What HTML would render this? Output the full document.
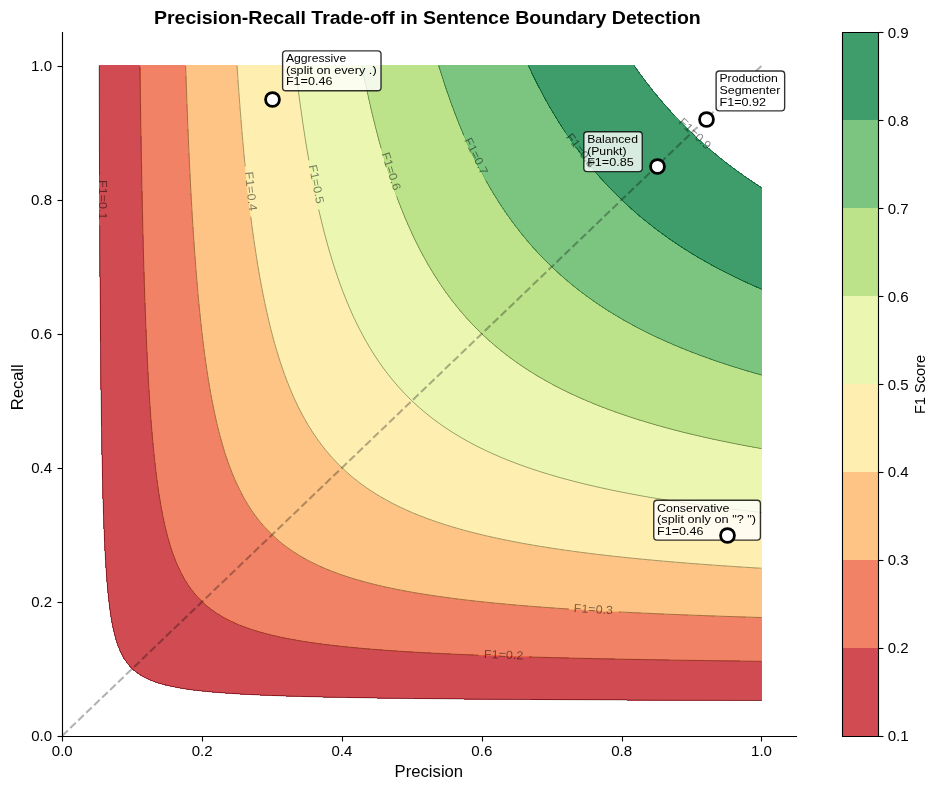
<!DOCTYPE html>
<html><head><meta charset="utf-8"><title>Precision-Recall Trade-off in Sentence Boundary Detection</title>
<style>html,body{margin:0;padding:0;background:#fff;overflow:hidden}svg{display:block;will-change:transform}text{font-family:"Liberation Sans",sans-serif}</style>
</head><body>
<svg width="938" height="790" viewBox="0 0 938 790">
<!-- figure background -->
<path d="M-5 795L995 795L995 -5L-5 -5Z" fill="#ffffff" shape-rendering="crispEdges"/>
<!-- axes patch / spines / colorbar outline -->
<path d="M62 736L796 736L796 32L62 32Z" fill="#ffffff"/>
<!-- filled contours & contour lines -->
<path d="M285.11 695.99L291.82 696.2L298.53 696.4L305.24 696.58L311.95 696.75L318.66 696.92L325.37 697.07L332.08 697.22L338.79 697.35L345.5 697.48L352.21 697.61L358.92 697.73L365.62 697.84L372.33 697.94L379.04 698.04L385.75 698.14L392.46 698.23L399.17 698.32L405.88 698.41L412.59 698.49L419.3 698.56L426.01 698.64L432.72 698.71L439.43 698.78L446.14 698.85L452.85 698.91L459.56 698.97L466.27 699.03L472.98 699.09L479.69 699.14L486.4 699.2L493.11 699.25L499.82 699.3L506.53 699.34L513.24 699.39L519.95 699.44L526.66 699.48L533.37 699.52L540.08 699.56L546.79 699.6L553.5 699.64L560.2 699.68L566.91 699.72L573.62 699.75L580.33 699.79L587.04 699.82L593.75 699.85L600.46 699.88L607.17 699.91L613.88 699.94L620.59 699.97L627.3 700L634.01 700.03L640.72 700.06L647.43 700.08L654.14 700.11L660.85 700.13L667.56 700.16L674.27 700.18L680.98 700.21L687.69 700.23L694.4 700.25L701.11 700.27L707.82 700.3L714.53 700.32L721.24 700.34L727.95 700.36L734.66 700.38L741.37 700.4L748.08 700.42L754.79 700.43L761.49 700.45L761.49 695.8L761.49 689.37L761.49 682.94L761.49 676.51L761.49 670.09L761.49 663.66L761.49 661.28L754.79 661.2L748.08 661.11L741.37 661.03L734.66 660.94L727.95 660.86L721.24 660.77L714.53 660.67L707.82 660.58L701.11 660.48L694.4 660.39L687.69 660.29L680.98 660.18L674.27 660.08L667.56 659.97L660.85 659.86L654.14 659.74L647.43 659.63L640.72 659.51L634.01 659.38L627.3 659.26L620.59 659.13L613.88 658.99L607.17 658.86L600.46 658.72L593.75 658.57L587.04 658.42L580.33 658.27L573.62 658.11L566.91 657.95L560.2 657.78L553.5 657.61L546.79 657.43L540.08 657.25L539.4 657.23L533.37 657.05L526.66 656.85L519.95 656.65L513.24 656.43L506.53 656.21L499.82 655.98L493.11 655.74L486.4 655.49L479.69 655.23L472.98 654.97L466.27 654.69L459.56 654.4L452.85 654.1L446.14 653.79L439.43 653.46L432.72 653.12L426.01 652.77L419.3 652.4L412.59 652.01L405.88 651.61L399.17 651.18L393.43 650.8L392.46 650.73L385.75 650.25L379.04 649.74L372.33 649.21L365.62 648.64L358.92 648.05L352.21 647.41L345.5 646.75L338.79 646.04L332.08 645.28L325.37 644.48L324.5 644.37L318.66 643.6L311.95 642.65L305.24 641.63L298.53 640.54L291.82 639.37L285.11 638.1L284.35 637.94L278.4 636.67L271.69 635.12L264.98 633.43L258.27 631.58L258.06 631.52L251.56 629.46L244.85 627.12L239.55 625.09L238.14 624.51L231.43 621.49L225.76 618.66L224.72 618.1L218.01 614.12L215.14 612.23L211.3 609.48L206.67 605.8L204.59 604L199.77 599.38L197.88 597.39L194.04 592.95L191.17 589.27L189.21 586.52L185.05 580.09L184.46 579.09L181.51 573.66L178.36 567.23L177.75 565.89L175.63 560.81L173.19 554.38L171.04 548.15L170.98 547.95L169.05 541.52L167.28 535.09L165.66 528.66L164.34 522.96L164.18 522.24L162.85 515.81L161.63 509.38L160.49 502.95L159.42 496.52L158.43 490.09L157.63 484.5L157.51 483.67L156.67 477.24L155.89 470.81L155.15 464.38L154.45 457.95L153.79 451.52L153.17 445.1L152.58 438.67L152.02 432.24L151.49 425.81L150.99 419.38L150.92 418.46L150.52 412.96L150.07 406.53L149.65 400.1L149.25 393.67L148.86 387.24L148.49 380.81L148.14 374.39L147.8 367.96L147.47 361.53L147.16 355.1L146.86 348.67L146.57 342.24L146.29 335.82L146.02 329.39L145.76 322.96L145.51 316.53L145.27 310.1L145.04 303.67L144.82 297.25L144.6 290.82L144.39 284.39L144.21 278.61L144.19 277.96L143.99 271.53L143.81 265.1L143.63 258.68L143.45 252.25L143.28 245.82L143.12 239.39L142.96 232.96L142.8 226.53L142.65 220.11L142.51 213.68L142.36 207.25L142.22 200.82L142.09 194.39L141.96 187.97L141.83 181.54L141.7 175.11L141.58 168.68L141.46 162.25L141.35 155.82L141.23 149.4L141.12 142.97L141.02 136.54L140.91 130.11L140.81 123.68L140.71 117.25L140.61 110.83L140.51 104.4L140.42 97.97L140.33 91.54L140.24 85.11L140.15 78.68L140.07 72.26L139.98 65.83L137.5 65.83L130.79 65.83L124.08 65.83L117.37 65.83L110.66 65.83L103.95 65.83L99.09 65.83L99.11 72.26L99.13 78.68L99.15 85.11L99.17 91.54L99.19 97.97L99.21 104.4L99.23 110.83L99.25 117.25L99.28 123.68L99.3 130.11L99.32 136.54L99.35 142.97L99.37 149.4L99.4 155.82L99.42 162.25L99.45 168.68L99.48 175.11L99.5 181.54L99.53 187.97L99.56 194.39L99.59 200.82L99.62 207.25L99.65 213.68L99.69 220.11L99.72 226.53L99.75 232.96L99.79 239.39L99.82 245.82L99.86 252.25L99.9 258.68L99.94 265.1L99.98 271.53L100.02 277.96L100.06 284.39L100.11 290.82L100.15 297.25L100.2 303.67L100.25 310.1L100.3 316.53L100.35 322.96L100.4 329.39L100.46 335.82L100.52 342.24L100.58 348.67L100.64 355.1L100.7 361.53L100.77 367.96L100.84 374.39L100.91 380.81L100.98 387.24L101.06 393.67L101.14 400.1L101.23 406.53L101.32 412.96L101.41 419.38L101.5 425.81L101.6 432.24L101.71 438.67L101.82 445.1L101.94 451.52L102.06 457.95L102.19 464.38L102.33 470.81L102.47 477.24L102.62 483.67L102.78 490.09L102.95 496.52L103.13 502.95L103.32 509.38L103.53 515.81L103.75 522.24L103.95 527.68L103.99 528.66L104.25 535.09L104.54 541.52L104.85 547.95L105.19 554.38L105.55 560.81L105.96 567.23L106.4 573.66L106.88 580.09L107.41 586.52L108.01 592.95L108.67 599.38L109.42 605.8L110.26 612.23L110.66 614.9L111.27 618.66L112.47 625.09L113.87 631.52L115.51 637.94L117.37 644.04L117.48 644.37L120.08 650.8L123.3 657.23L124.08 658.55L127.68 663.66L130.79 667.25L133.75 670.09L137.5 673.06L142.83 676.51L144.21 677.26L150.92 680.34L157.63 682.83L157.97 682.94L164.34 684.72L171.04 686.29L177.75 687.63L184.46 688.78L188.38 689.37L191.17 689.75L197.88 690.56L204.59 691.27L211.3 691.91L218.01 692.48L224.72 692.99L231.43 693.45L238.14 693.88L244.85 694.26L251.56 694.61L258.27 694.94L264.98 695.23L271.69 695.51L278.4 695.76L279.43 695.8Z" fill="#c41e27" fill-opacity="0.8" stroke="#c41e27" stroke-width="1" stroke-opacity="0.8" shape-rendering="crispEdges"/>
<path d="M540.08 657.25L546.79 657.43L553.5 657.61L560.2 657.78L566.91 657.95L573.62 658.11L580.33 658.27L587.04 658.42L593.75 658.57L600.46 658.72L607.17 658.86L613.88 658.99L620.59 659.13L627.3 659.26L634.01 659.38L640.72 659.51L647.43 659.63L654.14 659.74L660.85 659.86L667.56 659.97L674.27 660.08L680.98 660.18L687.69 660.29L694.4 660.39L701.11 660.48L707.82 660.58L714.53 660.67L721.24 660.77L727.95 660.86L734.66 660.94L741.37 661.03L748.08 661.11L754.79 661.2L761.49 661.28L761.49 657.23L761.49 650.8L761.49 644.37L761.49 637.94L761.49 631.52L761.49 625.09L761.49 618.66L761.49 617.5L754.79 617.29L748.08 617.09L741.37 616.87L734.66 616.66L727.95 616.43L721.24 616.2L714.53 615.97L707.82 615.73L701.11 615.49L694.4 615.23L687.69 614.98L680.98 614.71L674.27 614.44L667.56 614.16L660.85 613.88L654.14 613.59L647.43 613.29L640.72 612.98L634.01 612.66L627.3 612.33L625.26 612.23L620.59 611.99L613.88 611.64L607.17 611.28L600.46 610.91L593.75 610.52L587.04 610.12L580.33 609.71L573.62 609.29L566.91 608.86L560.2 608.41L553.5 607.94L546.79 607.46L540.08 606.97L533.37 606.45L526.66 605.92L525.22 605.8L519.95 605.36L513.24 604.78L506.53 604.17L499.82 603.54L493.11 602.89L486.4 602.21L479.69 601.5L472.98 600.76L466.27 600L461.04 599.38L459.56 599.19L452.85 598.34L446.14 597.44L439.43 596.51L432.72 595.53L426.01 594.51L419.3 593.43L416.38 592.95L412.59 592.29L405.88 591.07L399.17 589.79L392.46 588.44L385.75 587.02L383.5 586.52L379.04 585.49L372.33 583.85L365.62 582.12L358.92 580.27L358.27 580.09L352.21 578.27L345.5 576.12L338.79 573.83L338.32 573.66L332.08 571.31L325.37 568.61L322.16 567.23L318.66 565.65L311.95 562.43L308.78 560.81L305.24 558.89L298.53 555L297.51 554.38L291.82 550.67L287.92 547.95L285.11 545.86L279.63 541.52L278.4 540.48L272.41 535.09L271.69 534.4L266.06 528.66L264.98 527.48L260.45 522.24L258.27 519.54L255.43 515.81L251.56 510.36L250.91 509.38L246.85 502.95L244.85 499.56L243.16 496.52L239.79 490.09L238.14 486.74L236.71 483.67L233.89 477.24L231.43 471.25L231.26 470.81L228.87 464.38L226.63 457.95L224.72 452.14L224.53 451.52L222.61 445.1L220.8 438.67L219.09 432.24L218.01 427.97L217.49 425.81L216 419.38L214.6 412.96L213.26 406.53L211.99 400.1L211.3 396.47L210.79 393.67L209.67 387.24L208.6 380.81L207.58 374.39L206.61 367.96L205.68 361.53L204.78 355.1L204.59 353.68L203.94 348.67L203.14 342.24L202.38 335.82L201.64 329.39L200.93 322.96L200.25 316.53L199.59 310.1L198.96 303.67L198.35 297.25L197.88 292.19L197.76 290.82L197.21 284.39L196.67 277.96L196.15 271.53L195.65 265.1L195.17 258.68L194.7 252.25L194.24 245.82L193.8 239.39L193.37 232.96L192.96 226.53L192.56 220.11L192.17 213.68L191.79 207.25L191.42 200.82L191.17 196.35L191.07 194.39L190.73 187.97L190.4 181.54L190.07 175.11L189.76 168.68L189.45 162.25L189.16 155.82L188.87 149.4L188.58 142.97L188.31 136.54L188.04 130.11L187.78 123.68L187.52 117.25L187.27 110.83L187.03 104.4L186.79 97.97L186.56 91.54L186.33 85.11L186.11 78.68L185.89 72.26L185.68 65.83L184.46 65.83L177.75 65.83L171.04 65.83L164.34 65.83L157.63 65.83L150.92 65.83L144.21 65.83L139.98 65.83L140.07 72.26L140.15 78.68L140.24 85.11L140.33 91.54L140.42 97.97L140.51 104.4L140.61 110.83L140.71 117.25L140.81 123.68L140.91 130.11L141.02 136.54L141.12 142.97L141.23 149.4L141.35 155.82L141.46 162.25L141.58 168.68L141.7 175.11L141.83 181.54L141.96 187.97L142.09 194.39L142.22 200.82L142.36 207.25L142.51 213.68L142.65 220.11L142.8 226.53L142.96 232.96L143.12 239.39L143.28 245.82L143.45 252.25L143.63 258.68L143.81 265.1L143.99 271.53L144.19 277.96L144.21 278.61L144.39 284.39L144.6 290.82L144.82 297.25L145.04 303.67L145.27 310.1L145.51 316.53L145.76 322.96L146.02 329.39L146.29 335.82L146.57 342.24L146.86 348.67L147.16 355.1L147.47 361.53L147.8 367.96L148.14 374.39L148.49 380.81L148.86 387.24L149.25 393.67L149.65 400.1L150.07 406.53L150.52 412.96L150.92 418.46L150.99 419.38L151.49 425.81L152.02 432.24L152.58 438.67L153.17 445.1L153.79 451.52L154.45 457.95L155.15 464.38L155.89 470.81L156.67 477.24L157.51 483.67L157.63 484.5L158.43 490.09L159.42 496.52L160.49 502.95L161.63 509.38L162.85 515.81L164.18 522.24L164.34 522.96L165.66 528.66L167.28 535.09L169.05 541.52L170.98 547.95L171.04 548.15L173.19 554.38L175.63 560.81L177.75 565.89L178.36 567.23L181.51 573.66L184.46 579.09L185.05 580.09L189.21 586.52L191.17 589.27L194.04 592.95L197.88 597.39L199.77 599.38L204.59 604L206.67 605.8L211.3 609.48L215.14 612.23L218.01 614.12L224.72 618.1L225.76 618.66L231.43 621.49L238.14 624.51L239.55 625.09L244.85 627.12L251.56 629.46L258.06 631.52L258.27 631.58L264.98 633.43L271.69 635.12L278.4 636.67L284.35 637.94L285.11 638.1L291.82 639.37L298.53 640.54L305.24 641.63L311.95 642.65L318.66 643.6L324.5 644.37L325.37 644.48L332.08 645.28L338.79 646.04L345.5 646.75L352.21 647.41L358.92 648.05L365.62 648.64L372.33 649.21L379.04 649.74L385.75 650.25L392.46 650.73L393.43 650.8L399.17 651.18L405.88 651.61L412.59 652.01L419.3 652.4L426.01 652.77L432.72 653.12L439.43 653.46L446.14 653.79L452.85 654.1L459.56 654.4L466.27 654.69L472.98 654.97L479.69 655.23L486.4 655.49L493.11 655.74L499.82 655.98L506.53 656.21L513.24 656.43L519.95 656.65L526.66 656.85L533.37 657.05L539.4 657.23Z" fill="#ef633f" fill-opacity="0.8" stroke="#ef633f" stroke-width="1" stroke-opacity="0.8" shape-rendering="crispEdges"/>
<path d="M627.3 612.33L634.01 612.66L640.72 612.98L647.43 613.29L654.14 613.59L660.85 613.88L667.56 614.16L674.27 614.44L680.98 614.71L687.69 614.98L694.4 615.23L701.11 615.49L707.82 615.73L714.53 615.97L721.24 616.2L727.95 616.43L734.66 616.66L741.37 616.87L748.08 617.09L754.79 617.29L761.49 617.5L761.49 612.23L761.49 605.8L761.49 599.38L761.49 592.95L761.49 586.52L761.49 580.09L761.49 573.66L761.49 568.24L754.79 567.84L748.08 567.42L745.06 567.23L741.37 567L734.66 566.56L727.95 566.1L721.24 565.64L714.53 565.17L707.82 564.68L701.11 564.18L694.4 563.67L687.69 563.15L680.98 562.61L674.27 562.05L667.56 561.48L660.85 560.9L659.8 560.81L654.14 560.29L647.43 559.66L640.72 559.01L634.01 558.35L627.3 557.66L620.59 556.96L613.88 556.23L607.17 555.48L600.46 554.71L597.69 554.38L593.75 553.9L587.04 553.06L580.33 552.19L573.62 551.3L566.91 550.37L560.2 549.41L553.5 548.42L550.43 547.95L546.79 547.38L540.08 546.29L533.37 545.17L526.66 544L519.95 542.78L513.24 541.52L513.23 541.52L506.53 540.18L499.82 538.79L493.11 537.34L486.4 535.83L483.25 535.09L479.69 534.23L472.98 532.55L466.27 530.8L459.56 528.96L458.51 528.66L452.85 527L446.14 524.95L439.43 522.79L437.79 522.24L432.72 520.48L426.01 518.04L420.15 515.81L419.3 515.47L412.59 512.71L405.88 509.79L404.98 509.38L399.17 506.64L392.46 503.31L391.78 502.95L385.75 499.69L380.2 496.52L379.04 495.84L372.33 491.66L369.95 490.09L365.62 487.13L360.81 483.67L358.92 482.24L352.61 477.24L352.21 476.9L345.5 471.06L345.22 470.81L338.79 464.65L338.52 464.38L332.43 457.95L332.08 457.57L326.86 451.52L325.37 449.71L321.75 445.1L318.66 440.95L317.03 438.67L312.66 432.24L311.95 431.14L308.64 425.81L305.24 420.04L304.87 419.38L301.38 412.96L298.53 407.39L298.1 406.53L295.06 400.1L292.17 393.67L291.82 392.85L289.49 387.24L286.94 380.81L285.11 375.96L284.53 374.39L282.28 367.96L280.13 361.53L278.4 356.11L278.09 355.1L276.17 348.67L274.34 342.24L272.58 335.82L271.69 332.41L270.92 329.39L269.34 322.96L267.83 316.53L266.38 310.1L264.98 303.68L264.98 303.67L263.66 297.25L262.4 290.82L261.18 284.39L260 277.96L258.87 271.53L258.27 268.04L257.78 265.1L256.75 258.68L255.75 252.25L254.78 245.82L253.84 239.39L252.94 232.96L252.06 226.53L251.56 222.76L251.22 220.11L250.41 213.68L249.63 207.25L248.87 200.82L248.13 194.39L247.42 187.97L246.72 181.54L246.05 175.11L245.39 168.68L244.85 163.26L244.75 162.25L244.14 155.82L243.55 149.4L242.97 142.97L242.41 136.54L241.86 130.11L241.33 123.68L240.81 117.25L240.3 110.83L239.8 104.4L239.32 97.97L238.85 91.54L238.39 85.11L238.14 81.58L237.94 78.68L237.51 72.26L237.09 65.83L231.43 65.83L224.72 65.83L218.01 65.83L211.3 65.83L204.59 65.83L197.88 65.83L191.17 65.83L185.68 65.83L185.89 72.26L186.11 78.68L186.33 85.11L186.56 91.54L186.79 97.97L187.03 104.4L187.27 110.83L187.52 117.25L187.78 123.68L188.04 130.11L188.31 136.54L188.58 142.97L188.87 149.4L189.16 155.82L189.45 162.25L189.76 168.68L190.07 175.11L190.4 181.54L190.73 187.97L191.07 194.39L191.17 196.35L191.42 200.82L191.79 207.25L192.17 213.68L192.56 220.11L192.96 226.53L193.37 232.96L193.8 239.39L194.24 245.82L194.7 252.25L195.17 258.68L195.65 265.1L196.15 271.53L196.67 277.96L197.21 284.39L197.76 290.82L197.88 292.19L198.35 297.25L198.96 303.67L199.59 310.1L200.25 316.53L200.93 322.96L201.64 329.39L202.38 335.82L203.14 342.24L203.94 348.67L204.59 353.68L204.78 355.1L205.68 361.53L206.61 367.96L207.58 374.39L208.6 380.81L209.67 387.24L210.79 393.67L211.3 396.47L211.99 400.1L213.26 406.53L214.6 412.96L216 419.38L217.49 425.81L218.01 427.97L219.09 432.24L220.8 438.67L222.61 445.1L224.53 451.52L224.72 452.14L226.63 457.95L228.87 464.38L231.26 470.81L231.43 471.25L233.89 477.24L236.71 483.67L238.14 486.74L239.79 490.09L243.16 496.52L244.85 499.56L246.85 502.95L250.91 509.38L251.56 510.36L255.43 515.81L258.27 519.54L260.45 522.24L264.98 527.48L266.06 528.66L271.69 534.4L272.41 535.09L278.4 540.48L279.63 541.52L285.11 545.86L287.92 547.95L291.82 550.67L297.51 554.38L298.53 555L305.24 558.89L308.78 560.81L311.95 562.43L318.66 565.65L322.16 567.23L325.37 568.61L332.08 571.31L338.32 573.66L338.79 573.83L345.5 576.12L352.21 578.27L358.27 580.09L358.92 580.27L365.62 582.12L372.33 583.85L379.04 585.49L383.5 586.52L385.75 587.02L392.46 588.44L399.17 589.79L405.88 591.07L412.59 592.29L416.38 592.95L419.3 593.43L426.01 594.51L432.72 595.53L439.43 596.51L446.14 597.44L452.85 598.34L459.56 599.19L461.04 599.38L466.27 600L472.98 600.76L479.69 601.5L486.4 602.21L493.11 602.89L499.82 603.54L506.53 604.17L513.24 604.78L519.95 605.36L525.22 605.8L526.66 605.92L533.37 606.45L540.08 606.97L546.79 607.46L553.5 607.94L560.2 608.41L566.91 608.86L573.62 609.29L580.33 609.71L587.04 610.12L593.75 610.52L600.46 610.91L607.17 611.28L613.88 611.64L620.59 611.99L625.26 612.23Z" fill="#fdb567" fill-opacity="0.8" stroke="#fdb567" stroke-width="1" stroke-opacity="0.8" shape-rendering="crispEdges"/>
<path d="M748.08 567.42L754.79 567.84L761.49 568.24L761.49 567.23L761.49 560.81L761.49 554.38L761.49 547.95L761.49 541.52L761.49 535.09L761.49 528.66L761.49 522.24L761.49 515.81L761.49 512.41L754.79 511.69L748.08 510.95L741.37 510.19L734.66 509.41L734.37 509.38L727.95 508.6L721.24 507.77L714.53 506.92L707.82 506.05L701.11 505.15L694.4 504.23L687.69 503.28L685.43 502.95L680.98 502.29L674.27 501.28L667.56 500.23L660.85 499.15L654.14 498.05L647.43 496.9L645.25 496.52L640.72 495.72L634.01 494.48L627.3 493.21L620.59 491.9L613.88 490.55L611.67 490.09L607.17 489.14L600.46 487.67L593.75 486.16L587.04 484.59L583.21 483.67L580.33 482.96L573.62 481.25L566.91 479.48L560.2 477.64L558.76 477.24L553.5 475.72L546.79 473.71L540.08 471.62L537.54 470.81L533.37 469.43L526.66 467.14L519.95 464.75L518.94 464.38L513.24 462.23L506.53 459.59L502.52 457.95L499.82 456.82L493.11 453.89L487.9 451.52L486.4 450.82L479.69 447.57L474.81 445.1L472.98 444.14L466.27 440.5L463.02 438.67L459.56 436.65L452.85 432.57L452.33 432.24L446.14 428.2L442.63 425.81L439.43 423.56L433.75 419.38L432.72 418.6L426.01 413.29L425.6 412.96L419.3 407.58L418.11 406.53L412.59 401.44L411.19 400.1L405.88 394.81L404.78 393.67L399.17 387.64L398.82 387.24L393.28 380.81L392.46 379.83L388.11 374.39L385.75 371.32L383.26 367.96L379.04 362.03L378.7 361.53L374.44 355.1L372.33 351.79L370.42 348.67L366.62 342.24L365.62 340.49L363.05 335.82L359.65 329.39L358.92 327.95L356.45 322.96L353.39 316.53L352.21 313.94L350.5 310.1L347.75 303.67L345.5 298.21L345.11 297.25L342.62 290.82L340.22 284.39L338.79 280.39L337.94 277.96L335.76 271.53L333.66 265.1L332.08 260.06L331.65 258.68L329.74 252.25L327.89 245.82L326.11 239.39L325.37 236.64L324.4 232.96L322.77 226.53L321.18 220.11L319.65 213.68L318.66 209.36L318.18 207.25L316.77 200.82L315.4 194.39L314.08 187.97L312.79 181.54L311.95 177.2L311.55 175.11L310.36 168.68L309.2 162.25L308.08 155.82L306.99 149.4L305.92 142.97L305.24 138.71L304.9 136.54L303.91 130.11L302.94 123.68L302.01 117.25L301.09 110.83L300.2 104.4L299.34 97.97L298.53 91.81L298.49 91.54L297.68 85.11L296.89 78.68L296.12 72.26L295.36 65.83L291.82 65.83L285.11 65.83L278.4 65.83L271.69 65.83L264.98 65.83L258.27 65.83L251.56 65.83L244.85 65.83L238.14 65.83L237.09 65.83L237.51 72.26L237.94 78.68L238.14 81.58L238.39 85.11L238.85 91.54L239.32 97.97L239.8 104.4L240.3 110.83L240.81 117.25L241.33 123.68L241.86 130.11L242.41 136.54L242.97 142.97L243.55 149.4L244.14 155.82L244.75 162.25L244.85 163.26L245.39 168.68L246.05 175.11L246.72 181.54L247.42 187.97L248.13 194.39L248.87 200.82L249.63 207.25L250.41 213.68L251.22 220.11L251.56 222.76L252.06 226.53L252.94 232.96L253.84 239.39L254.78 245.82L255.75 252.25L256.75 258.68L257.78 265.1L258.27 268.04L258.87 271.53L260 277.96L261.18 284.39L262.4 290.82L263.66 297.25L264.98 303.67L264.98 303.68L266.38 310.1L267.83 316.53L269.34 322.96L270.92 329.39L271.69 332.41L272.58 335.82L274.34 342.24L276.17 348.67L278.09 355.1L278.4 356.11L280.13 361.53L282.28 367.96L284.53 374.39L285.11 375.96L286.94 380.81L289.49 387.24L291.82 392.85L292.17 393.67L295.06 400.1L298.1 406.53L298.53 407.39L301.38 412.96L304.87 419.38L305.24 420.04L308.64 425.81L311.95 431.14L312.66 432.24L317.03 438.67L318.66 440.95L321.75 445.1L325.37 449.71L326.86 451.52L332.08 457.57L332.43 457.95L338.52 464.38L338.79 464.65L345.22 470.81L345.5 471.06L352.21 476.9L352.61 477.24L358.92 482.24L360.81 483.67L365.62 487.13L369.95 490.09L372.33 491.66L379.04 495.84L380.2 496.52L385.75 499.69L391.78 502.95L392.46 503.31L399.17 506.64L404.98 509.38L405.88 509.79L412.59 512.71L419.3 515.47L420.15 515.81L426.01 518.04L432.72 520.48L437.79 522.24L439.43 522.79L446.14 524.95L452.85 527L458.51 528.66L459.56 528.96L466.27 530.8L472.98 532.55L479.69 534.23L483.25 535.09L486.4 535.83L493.11 537.34L499.82 538.79L506.53 540.18L513.23 541.52L513.24 541.52L519.95 542.78L526.66 544L533.37 545.17L540.08 546.29L546.79 547.38L550.43 547.95L553.5 548.42L560.2 549.41L566.91 550.37L573.62 551.3L580.33 552.19L587.04 553.06L593.75 553.9L597.69 554.38L600.46 554.71L607.17 555.48L613.88 556.23L620.59 556.96L627.3 557.66L634.01 558.35L640.72 559.01L647.43 559.66L654.14 560.29L659.8 560.81L660.85 560.9L667.56 561.48L674.27 562.05L680.98 562.61L687.69 563.15L694.4 563.67L701.11 564.18L707.82 564.68L714.53 565.17L721.24 565.64L727.95 566.1L734.66 566.56L741.37 567L745.06 567.23Z" fill="#feeb9d" fill-opacity="0.8" stroke="#feeb9d" stroke-width="1" stroke-opacity="0.8" shape-rendering="crispEdges"/>
<path d="M734.66 509.41L741.37 510.19L748.08 510.95L754.79 511.69L761.49 512.41L761.49 509.38L761.49 502.95L761.49 496.52L761.49 490.09L761.49 483.67L761.49 477.24L761.49 470.81L761.49 464.38L761.49 457.95L761.49 451.52L761.49 448.61L754.79 447.42L748.08 446.19L742.24 445.1L741.37 444.93L734.66 443.62L727.95 442.28L721.24 440.9L714.53 439.48L710.79 438.67L707.82 438.01L701.11 436.49L694.4 434.93L687.69 433.32L683.28 432.24L680.98 431.66L674.27 429.94L667.56 428.16L660.85 426.33L659.01 425.81L654.14 424.42L647.43 422.44L640.72 420.4L637.45 419.38L634.01 418.28L627.3 416.08L620.59 413.8L618.17 412.96L613.88 411.42L607.17 408.95L600.81 406.53L600.46 406.39L593.75 403.7L587.04 400.92L585.12 400.1L580.33 398L573.62 394.96L570.86 393.67L566.91 391.78L560.2 388.45L557.84 387.24L553.5 384.96L546.79 381.31L545.9 380.81L540.08 377.46L534.92 374.39L533.37 373.43L526.66 369.18L524.79 367.96L519.95 364.69L515.41 361.53L513.24 359.96L506.7 355.1L506.53 354.97L499.82 349.67L498.6 348.67L493.11 344.05L491.04 342.24L486.4 338.08L483.96 335.82L479.69 331.72L477.33 329.39L472.98 324.94L471.1 322.96L466.27 317.7L465.23 316.53L459.7 310.1L459.56 309.94L454.48 303.67L452.85 301.59L449.55 297.25L446.14 292.6L444.87 290.82L440.43 284.39L439.43 282.9L436.22 277.96L432.72 272.39L432.2 271.53L428.39 265.1L426.01 260.95L424.75 258.68L421.28 252.25L419.3 248.47L417.95 245.82L414.78 239.39L412.59 234.81L411.74 232.96L408.83 226.53L406.02 220.11L405.88 219.78L403.35 213.68L400.77 207.25L399.17 203.15L398.29 200.82L395.91 194.39L393.61 187.97L392.46 184.67L391.4 181.54L389.27 175.11L387.21 168.68L385.75 164.01L385.22 162.25L383.3 155.82L381.45 149.4L379.65 142.97L379.04 140.77L377.91 136.54L376.24 130.11L374.61 123.68L373.02 117.25L372.33 114.41L371.49 110.83L370.01 104.4L368.57 97.97L367.17 91.54L365.8 85.11L365.62 84.28L364.48 78.68L363.2 72.26L361.95 65.83L358.92 65.83L352.21 65.83L345.5 65.83L338.79 65.83L332.08 65.83L325.37 65.83L318.66 65.83L311.95 65.83L305.24 65.83L298.53 65.83L295.36 65.83L296.12 72.26L296.89 78.68L297.68 85.11L298.49 91.54L298.53 91.81L299.34 97.97L300.2 104.4L301.09 110.83L302.01 117.25L302.94 123.68L303.91 130.11L304.9 136.54L305.24 138.71L305.92 142.97L306.99 149.4L308.08 155.82L309.2 162.25L310.36 168.68L311.55 175.11L311.95 177.2L312.79 181.54L314.08 187.97L315.4 194.39L316.77 200.82L318.18 207.25L318.66 209.36L319.65 213.68L321.18 220.11L322.77 226.53L324.4 232.96L325.37 236.64L326.11 239.39L327.89 245.82L329.74 252.25L331.65 258.68L332.08 260.06L333.66 265.1L335.76 271.53L337.94 277.96L338.79 280.39L340.22 284.39L342.62 290.82L345.11 297.25L345.5 298.21L347.75 303.67L350.5 310.1L352.21 313.94L353.39 316.53L356.45 322.96L358.92 327.95L359.65 329.39L363.05 335.82L365.62 340.49L366.62 342.24L370.42 348.67L372.33 351.79L374.44 355.1L378.7 361.53L379.04 362.03L383.26 367.96L385.75 371.32L388.11 374.39L392.46 379.83L393.28 380.81L398.82 387.24L399.17 387.64L404.78 393.67L405.88 394.81L411.19 400.1L412.59 401.44L418.11 406.53L419.3 407.58L425.6 412.96L426.01 413.29L432.72 418.6L433.75 419.38L439.43 423.56L442.63 425.81L446.14 428.2L452.33 432.24L452.85 432.57L459.56 436.65L463.02 438.67L466.27 440.5L472.98 444.14L474.81 445.1L479.69 447.57L486.4 450.82L487.9 451.52L493.11 453.89L499.82 456.82L502.52 457.95L506.53 459.59L513.24 462.23L518.94 464.38L519.95 464.75L526.66 467.14L533.37 469.43L537.54 470.81L540.08 471.62L546.79 473.71L553.5 475.72L558.76 477.24L560.2 477.64L566.91 479.48L573.62 481.25L580.33 482.96L583.21 483.67L587.04 484.59L593.75 486.16L600.46 487.67L607.17 489.14L611.67 490.09L613.88 490.55L620.59 491.9L627.3 493.21L634.01 494.48L640.72 495.72L645.25 496.52L647.43 496.9L654.14 498.05L660.85 499.15L667.56 500.23L674.27 501.28L680.98 502.29L685.43 502.95L687.69 503.28L694.4 504.23L701.11 505.15L707.82 506.05L714.53 506.92L721.24 507.77L727.95 508.6L734.37 509.38Z" fill="#e6f59d" fill-opacity="0.8" stroke="#e6f59d" stroke-width="1" stroke-opacity="0.8" shape-rendering="crispEdges"/>
<path d="M748.08 446.19L754.79 447.42L761.49 448.61L761.49 445.1L761.49 438.67L761.49 432.24L761.49 425.81L761.49 419.38L761.49 412.96L761.49 406.53L761.49 400.1L761.49 393.67L761.49 387.24L761.49 380.81L761.49 375.01L759.27 374.39L754.79 373.11L748.08 371.16L741.37 369.15L737.46 367.96L734.66 367.08L727.95 364.94L721.24 362.73L717.66 361.53L714.53 360.45L707.82 358.09L701.11 355.66L699.59 355.1L694.4 353.13L687.69 350.52L683.06 348.67L680.98 347.82L674.27 345.02L667.85 342.24L667.56 342.12L660.85 339.09L654.14 335.97L653.83 335.82L647.43 332.7L640.85 329.39L640.72 329.32L634.01 325.78L628.82 322.96L627.3 322.11L620.59 318.27L617.63 316.53L613.88 314.27L607.17 310.1L607.17 310.1L600.46 305.72L597.42 303.67L593.75 301.15L588.26 297.25L587.04 296.36L580.33 291.33L579.67 290.82L573.62 286.04L571.59 284.39L566.91 280.48L563.98 277.96L560.2 274.63L556.79 271.53L553.5 268.46L549.99 265.1L546.79 261.95L543.55 258.68L540.08 255.06L537.44 252.25L533.37 247.77L531.64 245.82L526.66 240.03L526.12 239.39L520.87 232.96L519.95 231.8L515.88 226.53L513.24 223.02L511.1 220.11L506.53 213.68L506.53 213.68L502.18 207.25L499.82 203.66L498 200.82L493.99 194.39L493.11 192.94L490.16 187.97L486.47 181.54L486.4 181.41L482.94 175.11L479.69 168.98L479.53 168.68L476.27 162.25L473.11 155.82L472.98 155.55L470.09 149.4L467.16 142.97L466.27 140.98L464.34 136.54L461.61 130.11L459.56 125.13L458.97 123.68L456.44 117.25L453.97 110.83L452.85 107.83L451.59 104.4L449.29 97.97L447.05 91.54L446.14 88.86L444.89 85.11L442.8 78.68L440.76 72.26L439.43 67.96L438.78 65.83L432.72 65.83L426.01 65.83L419.3 65.83L412.59 65.83L405.88 65.83L399.17 65.83L392.46 65.83L385.75 65.83L379.04 65.83L372.33 65.83L365.62 65.83L361.95 65.83L363.2 72.26L364.48 78.68L365.62 84.28L365.8 85.11L367.17 91.54L368.57 97.97L370.01 104.4L371.49 110.83L372.33 114.41L373.02 117.25L374.61 123.68L376.24 130.11L377.91 136.54L379.04 140.77L379.65 142.97L381.45 149.4L383.3 155.82L385.22 162.25L385.75 164.01L387.21 168.68L389.27 175.11L391.4 181.54L392.46 184.67L393.61 187.97L395.91 194.39L398.29 200.82L399.17 203.15L400.77 207.25L403.35 213.68L405.88 219.78L406.02 220.11L408.83 226.53L411.74 232.96L412.59 234.81L414.78 239.39L417.95 245.82L419.3 248.47L421.28 252.25L424.75 258.68L426.01 260.95L428.39 265.1L432.2 271.53L432.72 272.39L436.22 277.96L439.43 282.9L440.43 284.39L444.87 290.82L446.14 292.6L449.55 297.25L452.85 301.59L454.48 303.67L459.56 309.94L459.7 310.1L465.23 316.53L466.27 317.7L471.1 322.96L472.98 324.94L477.33 329.39L479.69 331.72L483.96 335.82L486.4 338.08L491.04 342.24L493.11 344.05L498.6 348.67L499.82 349.67L506.53 354.97L506.7 355.1L513.24 359.96L515.41 361.53L519.95 364.69L524.79 367.96L526.66 369.18L533.37 373.43L534.92 374.39L540.08 377.46L545.9 380.81L546.79 381.31L553.5 384.96L557.84 387.24L560.2 388.45L566.91 391.78L570.86 393.67L573.62 394.96L580.33 398L585.12 400.1L587.04 400.92L593.75 403.7L600.46 406.39L600.81 406.53L607.17 408.95L613.88 411.42L618.17 412.96L620.59 413.8L627.3 416.08L634.01 418.28L637.45 419.38L640.72 420.4L647.43 422.44L654.14 424.42L659.01 425.81L660.85 426.33L667.56 428.16L674.27 429.94L680.98 431.66L683.28 432.24L687.69 433.32L694.4 434.93L701.11 436.49L707.82 438.01L710.79 438.67L714.53 439.48L721.24 440.9L727.95 442.28L734.66 443.62L741.37 444.93L742.24 445.1Z" fill="#abdb6d" fill-opacity="0.8" stroke="#abdb6d" stroke-width="1" stroke-opacity="0.8" shape-rendering="crispEdges"/>
<path d="M761.49 375.01L761.49 374.39L761.49 367.96L761.49 361.53L761.49 355.1L761.49 348.67L761.49 342.24L761.49 335.82L761.49 329.39L761.49 322.96L761.49 316.53L761.49 310.1L761.49 303.67L761.49 297.25L761.49 290.82L761.49 289.12L754.79 286.22L750.67 284.39L748.08 283.22L741.37 280.11L736.82 277.96L734.66 276.91L727.95 273.59L723.89 271.53L721.24 270.16L714.53 266.6L711.78 265.1L707.82 262.91L701.11 259.09L700.4 258.68L694.4 255.11L689.72 252.25L687.69 250.98L680.98 246.69L679.64 245.82L674.27 242.23L670.14 239.39L667.56 237.58L661.15 232.96L660.85 232.74L654.14 227.69L652.65 226.53L647.43 222.41L644.59 220.11L640.72 216.9L636.93 213.68L634.01 211.14L629.65 207.25L627.3 205.1L622.72 200.82L620.59 198.78L616.12 194.39L613.88 192.14L609.82 187.97L607.17 185.17L603.81 181.54L600.46 177.83L598.06 175.11L593.75 170.11L592.55 168.68L587.27 162.25L587.04 161.97L582.22 155.82L580.33 153.35L577.37 149.4L573.62 144.25L572.71 142.97L568.23 136.54L566.91 134.6L563.93 130.11L560.2 124.36L559.78 123.68L555.79 117.25L553.5 113.46L551.94 110.83L548.22 104.4L546.79 101.85L544.64 97.97L541.17 91.54L540.08 89.46L537.83 85.11L534.59 78.68L533.37 76.2L531.46 72.26L528.43 65.83L526.66 65.83L519.95 65.83L513.24 65.83L506.53 65.83L499.82 65.83L493.11 65.83L486.4 65.83L479.69 65.83L472.98 65.83L466.27 65.83L459.56 65.83L452.85 65.83L446.14 65.83L439.43 65.83L438.78 65.83L439.43 67.96L440.76 72.26L442.8 78.68L444.89 85.11L446.14 88.86L447.05 91.54L449.29 97.97L451.59 104.4L452.85 107.83L453.97 110.83L456.44 117.25L458.97 123.68L459.56 125.13L461.61 130.11L464.34 136.54L466.27 140.98L467.16 142.97L470.09 149.4L472.98 155.55L473.11 155.82L476.27 162.25L479.53 168.68L479.69 168.98L482.94 175.11L486.4 181.41L486.47 181.54L490.16 187.97L493.11 192.94L493.99 194.39L498 200.82L499.82 203.66L502.18 207.25L506.53 213.68L506.53 213.68L511.1 220.11L513.24 223.02L515.88 226.53L519.95 231.8L520.87 232.96L526.12 239.39L526.66 240.03L531.64 245.82L533.37 247.77L537.44 252.25L540.08 255.06L543.55 258.68L546.79 261.95L549.99 265.1L553.5 268.46L556.79 271.53L560.2 274.63L563.98 277.96L566.91 280.48L571.59 284.39L573.62 286.04L579.67 290.82L580.33 291.33L587.04 296.36L588.26 297.25L593.75 301.15L597.42 303.67L600.46 305.72L607.17 310.1L607.17 310.1L613.88 314.27L617.63 316.53L620.59 318.27L627.3 322.11L628.82 322.96L634.01 325.78L640.72 329.32L640.85 329.39L647.43 332.7L653.83 335.82L654.14 335.97L660.85 339.09L667.56 342.12L667.85 342.24L674.27 345.02L680.98 347.82L683.06 348.67L687.69 350.52L694.4 353.13L699.59 355.1L701.11 355.66L707.82 358.09L714.53 360.45L717.66 361.53L721.24 362.73L727.95 364.94L734.66 367.08L737.46 367.96L741.37 369.15L748.08 371.16L754.79 373.11L759.27 374.39Z" fill="#5ab760" fill-opacity="0.8" stroke="#5ab760" stroke-width="1" stroke-opacity="0.8" shape-rendering="crispEdges"/>
<path d="M754.79 286.22L761.49 289.12L761.49 284.39L761.49 277.96L761.49 271.53L761.49 265.1L761.49 258.68L761.49 252.25L761.49 245.82L761.49 239.39L761.49 232.96L761.49 226.53L761.49 220.11L761.49 213.68L761.49 207.25L761.49 200.82L761.49 194.39L761.49 187.97L761.49 187.63L754.79 183.24L752.24 181.54L748.08 178.7L742.93 175.11L741.37 174L734.66 169.12L734.06 168.68L727.95 164.05L725.63 162.25L721.24 158.78L717.58 155.82L714.53 153.31L709.89 149.4L707.82 147.61L702.54 142.97L701.11 141.68L695.51 136.54L694.4 135.5L688.78 130.11L687.69 129.04L682.32 123.68L680.98 122.31L676.13 117.25L674.27 115.27L670.19 110.83L667.56 107.9L664.47 104.4L660.85 100.19L658.98 97.97L654.14 92.11L653.68 91.54L648.59 85.11L647.43 83.62L643.68 78.68L640.72 74.7L638.94 72.26L634.37 65.83L634.01 65.83L627.3 65.83L620.59 65.83L613.88 65.83L607.17 65.83L600.46 65.83L593.75 65.83L587.04 65.83L580.33 65.83L573.62 65.83L566.91 65.83L560.2 65.83L553.5 65.83L546.79 65.83L540.08 65.83L533.37 65.83L528.43 65.83L531.46 72.26L533.37 76.2L534.59 78.68L537.83 85.11L540.08 89.46L541.17 91.54L544.64 97.97L546.79 101.85L548.22 104.4L551.94 110.83L553.5 113.46L555.79 117.25L559.78 123.68L560.2 124.36L563.93 130.11L566.91 134.6L568.23 136.54L572.71 142.97L573.62 144.25L577.37 149.4L580.33 153.35L582.22 155.82L587.04 161.97L587.27 162.25L592.55 168.68L593.75 170.11L598.06 175.11L600.46 177.83L603.81 181.54L607.17 185.17L609.82 187.97L613.88 192.14L616.12 194.39L620.59 198.78L622.72 200.82L627.3 205.1L629.65 207.25L634.01 211.14L636.93 213.68L640.72 216.9L644.59 220.11L647.43 222.41L652.65 226.53L654.14 227.69L660.85 232.74L661.15 232.96L667.56 237.58L670.14 239.39L674.27 242.23L679.64 245.82L680.98 246.69L687.69 250.98L689.72 252.25L694.4 255.11L700.4 258.68L701.11 259.09L707.82 262.91L711.78 265.1L714.53 266.6L721.24 270.16L723.89 271.53L727.95 273.59L734.66 276.91L736.82 277.96L741.37 280.11L748.08 283.22L750.67 284.39Z" fill="#0f8446" fill-opacity="0.8" stroke="#0f8446" stroke-width="1" stroke-opacity="0.8" shape-rendering="crispEdges"/>
<!-- x ticks -->
<path d="M62.5 736.5L62.5 741.5" fill="#000000" stroke="#000000" stroke-width="1.11" stroke-linejoin="round"/>
<!-- x tick labels -->
<text x="51.84" y="756.44" font-size="14.58" textLength="20.88" lengthAdjust="spacingAndGlyphs">0.0</text>
<!-- x ticks -->
<path d="M202.5 736.5L202.5 741.5" fill="#000000" stroke="#000000" stroke-width="1.11" stroke-linejoin="round"/>
<!-- x tick labels -->
<text x="191.68" y="756.44" font-size="14.58" textLength="20.88" lengthAdjust="spacingAndGlyphs">0.2</text>
<!-- x ticks -->
<path d="M342.5 736.5L342.5 741.5" fill="#000000" stroke="#000000" stroke-width="1.11" stroke-linejoin="round"/>
<!-- x tick labels -->
<text x="331.53" y="756.44" font-size="14.58" textLength="20.88" lengthAdjust="spacingAndGlyphs">0.4</text>
<!-- x ticks -->
<path d="M482.5 736.5L482.5 741.5" fill="#000000" stroke="#000000" stroke-width="1.11" stroke-linejoin="round"/>
<!-- x tick labels -->
<text x="471.31" y="756.44" font-size="14.58" textLength="21" lengthAdjust="spacingAndGlyphs">0.6</text>
<!-- x ticks -->
<path d="M622.5 736.5L622.5 741.5" fill="#000000" stroke="#000000" stroke-width="1.11" stroke-linejoin="round"/>
<!-- x tick labels -->
<text x="611.15" y="756.44" font-size="14.58" textLength="21" lengthAdjust="spacingAndGlyphs">0.8</text>
<!-- x ticks -->
<path d="M761.5 736.5L761.5 741.5" fill="#000000" stroke="#000000" stroke-width="1.11" stroke-linejoin="round"/>
<!-- x tick labels -->
<text x="750.99" y="756.44" font-size="14.58" textLength="21" lengthAdjust="spacingAndGlyphs">1.0</text>
<!-- axis label -->
<text x="394.62" y="777" font-size="16.04" textLength="68.5" lengthAdjust="spacingAndGlyphs">Precision</text>
<!-- y ticks -->
<path d="M62.5 736.5L57.5 736.5" fill="#000000" stroke="#000000" stroke-width="1.11" stroke-linejoin="round"/>
<!-- y tick labels -->
<text x="31.18" y="741.22" font-size="14.58" textLength="20.88" lengthAdjust="spacingAndGlyphs">0.0</text>
<!-- y ticks -->
<path d="M62.5 602.5L57.5 602.5" fill="#000000" stroke="#000000" stroke-width="1.11" stroke-linejoin="round"/>
<!-- y tick labels -->
<text x="31.18" y="607.24" font-size="14.58" textLength="20.88" lengthAdjust="spacingAndGlyphs">0.2</text>
<!-- y ticks -->
<path d="M62.5 468.5L57.5 468.5" fill="#000000" stroke="#000000" stroke-width="1.11" stroke-linejoin="round"/>
<!-- y tick labels -->
<text x="31.18" y="473.26" font-size="14.58" textLength="20.88" lengthAdjust="spacingAndGlyphs">0.4</text>
<!-- y ticks -->
<path d="M62.5 334.5L57.5 334.5" fill="#000000" stroke="#000000" stroke-width="1.11" stroke-linejoin="round"/>
<!-- y tick labels -->
<text x="31.06" y="339.29" font-size="14.58" textLength="21" lengthAdjust="spacingAndGlyphs">0.6</text>
<!-- y ticks -->
<path d="M62.5 200.5L57.5 200.5" fill="#000000" stroke="#000000" stroke-width="1.11" stroke-linejoin="round"/>
<!-- y tick labels -->
<text x="31.06" y="205.31" font-size="14.58" textLength="21" lengthAdjust="spacingAndGlyphs">0.8</text>
<!-- y ticks -->
<path d="M62.5 66.5L57.5 66.5" fill="#000000" stroke="#000000" stroke-width="1.11" stroke-linejoin="round"/>
<!-- y tick labels -->
<text x="31.06" y="71.33" font-size="14.58" textLength="21" lengthAdjust="spacingAndGlyphs">1.0</text>
<!-- axis label -->
<text x="23.2" y="410.16" font-size="16.04" textLength="45.88" lengthAdjust="spacingAndGlyphs" transform="rotate(-90 23.2 410.16)">Recall</text>
<!-- filled contours & contour lines -->
<path d="M99.09 65.83L99.11 72.26L99.13 78.68L99.15 85.11L99.17 91.54L99.19 97.97L99.21 104.4L99.23 110.83L99.25 117.25L99.28 123.68L99.3 130.11L99.32 136.54L99.35 142.97L99.37 149.4L99.4 155.82L99.42 162.25L99.45 168.68L99.47 174.82M99.71 225.19L99.72 226.53L99.75 232.96L99.79 239.39L99.82 245.82L99.86 252.25L99.9 258.68L99.94 265.1L99.98 271.53L100.02 277.96L100.06 284.39L100.11 290.82L100.15 297.25L100.2 303.67L100.25 310.1L100.3 316.53L100.35 322.96L100.4 329.39L100.46 335.82L100.52 342.24L100.58 348.67L100.64 355.1L100.7 361.53L100.77 367.96L100.84 374.39L100.91 380.81L100.98 387.24L101.06 393.67L101.14 400.1L101.23 406.53L101.32 412.96L101.41 419.38L101.5 425.81L101.6 432.24L101.71 438.67L101.82 445.1L101.94 451.52L102.06 457.95L102.19 464.38L102.33 470.81L102.47 477.24L102.62 483.67L102.78 490.09L102.95 496.52L103.13 502.95L103.32 509.38L103.53 515.81L103.75 522.24L103.95 527.68L103.99 528.66L104.25 535.09L104.54 541.52L104.85 547.95L105.19 554.38L105.55 560.81L105.96 567.23L106.4 573.66L106.88 580.09L107.41 586.52L108.01 592.95L108.67 599.38L109.42 605.8L110.26 612.23L110.66 614.9L111.27 618.66L112.47 625.09L113.87 631.52L115.51 637.94L117.37 644.04L117.48 644.37L120.08 650.8L123.3 657.23L124.08 658.55L127.68 663.66L130.79 667.25L133.75 670.09L137.5 673.06L142.83 676.51L144.21 677.26L150.92 680.34L157.63 682.83L157.97 682.94L164.34 684.72L171.04 686.29L177.75 687.63L184.46 688.78L188.38 689.37L191.17 689.75L197.88 690.56L204.59 691.27L211.3 691.91L218.01 692.48L224.72 692.99L231.43 693.45L238.14 693.88L244.85 694.26L251.56 694.61L258.27 694.94L264.98 695.23L271.69 695.51L278.4 695.76L279.43 695.8L285.11 695.99L291.82 696.2L298.53 696.4L305.24 696.58L311.95 696.75L318.66 696.92L325.37 697.07L332.08 697.22L338.79 697.35L345.5 697.48L352.21 697.61L358.92 697.73L365.62 697.84L372.33 697.94L379.04 698.04L385.75 698.14L392.46 698.23L399.17 698.32L405.88 698.41L412.59 698.49L419.3 698.56L426.01 698.64L432.72 698.71L439.43 698.78L446.14 698.85L452.85 698.91L459.56 698.97L466.27 699.03L472.98 699.09L479.69 699.14L486.4 699.2L493.11 699.25L499.82 699.3L506.53 699.34L513.24 699.39L519.95 699.44L526.66 699.48L533.37 699.52L540.08 699.56L546.79 699.6L553.5 699.64L560.2 699.68L566.91 699.72L573.62 699.75L580.33 699.79L587.04 699.82L593.75 699.85L600.46 699.88L607.17 699.91L613.88 699.94L620.59 699.97L627.3 700L634.01 700.03L640.72 700.06L647.43 700.08L654.14 700.11L660.85 700.13L667.56 700.16L674.27 700.18L680.98 700.21L687.69 700.23L694.4 700.25L701.11 700.27L707.82 700.3L714.53 700.32L721.24 700.34L727.95 700.36L734.66 700.38L741.37 700.4L748.08 700.42L754.79 700.43L761.49 700.45" fill="none" stroke="#000000" stroke-width="0.69" stroke-opacity="0.5" stroke-linejoin="round"/>
<path d="M139.98 65.83L140.07 72.26L140.15 78.68L140.24 85.11L140.33 91.54L140.42 97.97L140.51 104.4L140.61 110.83L140.71 117.25L140.81 123.68L140.91 130.11L141.02 136.54L141.12 142.97L141.23 149.4L141.35 155.82L141.46 162.25L141.58 168.68L141.7 175.11L141.83 181.54L141.96 187.97L142.09 194.39L142.22 200.82L142.36 207.25L142.51 213.68L142.65 220.11L142.8 226.53L142.96 232.96L143.12 239.39L143.28 245.82L143.45 252.25L143.63 258.68L143.81 265.1L143.99 271.53L144.19 277.96L144.21 278.61L144.39 284.39L144.6 290.82L144.82 297.25L145.04 303.67L145.27 310.1L145.51 316.53L145.76 322.96L146.02 329.39L146.29 335.82L146.57 342.24L146.86 348.67L147.16 355.1L147.47 361.53L147.8 367.96L148.14 374.39L148.49 380.81L148.86 387.24L149.25 393.67L149.65 400.1L150.07 406.53L150.52 412.96L150.92 418.46L150.99 419.38L151.49 425.81L152.02 432.24L152.58 438.67L153.17 445.1L153.79 451.52L154.45 457.95L155.15 464.38L155.89 470.81L156.67 477.24L157.51 483.67L157.63 484.5L158.43 490.09L159.42 496.52L160.49 502.95L161.63 509.38L162.85 515.81L164.18 522.24L164.34 522.96L165.66 528.66L167.28 535.09L169.05 541.52L170.98 547.95L171.04 548.15L173.19 554.38L175.63 560.81L177.75 565.89L178.36 567.23L181.51 573.66L184.46 579.09L185.05 580.09L189.21 586.52L191.17 589.27L194.04 592.95L197.88 597.39L199.77 599.38L204.59 604L206.67 605.8L211.3 609.48L215.14 612.23L218.01 614.12L224.72 618.1L225.76 618.66L231.43 621.49L238.14 624.51L239.55 625.09L244.85 627.12L251.56 629.46L258.06 631.52L258.27 631.58L264.98 633.43L271.69 635.12L278.4 636.67L284.35 637.94L285.11 638.1L291.82 639.37L298.53 640.54L305.24 641.63L311.95 642.65L318.66 643.6L324.5 644.37L325.37 644.48L332.08 645.28L338.79 646.04L345.5 646.75L352.21 647.41L358.92 648.05L365.62 648.64L372.33 649.21L379.04 649.74L385.75 650.25L392.46 650.73L393.43 650.8L399.17 651.18L405.88 651.61L412.59 652.01L419.3 652.4L426.01 652.77L432.72 653.12L439.43 653.46L446.14 653.79L452.85 654.1L459.56 654.4L466.27 654.69L472.98 654.97L478.55 655.19M529.02 656.92L533.37 657.05L539.4 657.23L540.08 657.25L546.79 657.43L553.5 657.61L560.2 657.78L566.91 657.95L573.62 658.11L580.33 658.27L587.04 658.42L593.75 658.57L600.46 658.72L607.17 658.86L613.88 658.99L620.59 659.13L627.3 659.26L634.01 659.38L640.72 659.51L647.43 659.63L654.14 659.74L660.85 659.86L667.56 659.97L674.27 660.08L680.98 660.18L687.69 660.29L694.4 660.39L701.11 660.48L707.82 660.58L714.53 660.67L721.24 660.77L727.95 660.86L734.66 660.94L741.37 661.03L748.08 661.11L754.79 661.2L761.49 661.28" fill="none" stroke="#000000" stroke-width="0.69" stroke-opacity="0.5" stroke-linejoin="round"/>
<path d="M185.68 65.83L185.89 72.26L186.11 78.68L186.33 85.11L186.56 91.54L186.79 97.97L187.03 104.4L187.27 110.83L187.52 117.25L187.78 123.68L188.04 130.11L188.31 136.54L188.58 142.97L188.87 149.4L189.16 155.82L189.45 162.25L189.76 168.68L190.07 175.11L190.4 181.54L190.73 187.97L191.07 194.39L191.17 196.35L191.42 200.82L191.79 207.25L192.17 213.68L192.56 220.11L192.96 226.53L193.37 232.96L193.8 239.39L194.24 245.82L194.7 252.25L195.17 258.68L195.65 265.1L196.15 271.53L196.67 277.96L197.21 284.39L197.76 290.82L197.88 292.19L198.35 297.25L198.96 303.67L199.59 310.1L200.25 316.53L200.93 322.96L201.64 329.39L202.38 335.82L203.14 342.24L203.94 348.67L204.59 353.68L204.78 355.1L205.68 361.53L206.61 367.96L207.58 374.39L208.6 380.81L209.67 387.24L210.79 393.67L211.3 396.47L211.99 400.1L213.26 406.53L214.6 412.96L216 419.38L217.49 425.81L218.01 427.97L219.09 432.24L220.8 438.67L222.61 445.1L224.53 451.52L224.72 452.14L226.63 457.95L228.87 464.38L231.26 470.81L231.43 471.25L233.89 477.24L236.71 483.67L238.14 486.74L239.79 490.09L243.16 496.52L244.85 499.56L246.85 502.95L250.91 509.38L251.56 510.36L255.43 515.81L258.27 519.54L260.45 522.24L264.98 527.48L266.06 528.66L271.69 534.4L272.41 535.09L278.4 540.48L279.63 541.52L285.11 545.86L287.92 547.95L291.82 550.67L297.51 554.38L298.53 555L305.24 558.89L308.78 560.81L311.95 562.43L318.66 565.65L322.16 567.23L325.37 568.61L332.08 571.31L338.32 573.66L338.79 573.83L345.5 576.12L352.21 578.27L358.27 580.09L358.92 580.27L365.62 582.12L372.33 583.85L379.04 585.49L383.5 586.52L385.75 587.02L392.46 588.44L399.17 589.79L405.88 591.07L412.59 592.29L416.38 592.95L419.3 593.43L426.01 594.51L432.72 595.53L439.43 596.51L446.14 597.44L452.85 598.34L459.56 599.19L461.04 599.38L466.27 600L472.98 600.76L479.69 601.5L486.4 602.21L493.11 602.89L499.82 603.54L506.53 604.17L513.24 604.78L519.95 605.36L525.22 605.8L526.66 605.92L533.37 606.45L540.08 606.97L546.79 607.46L553.5 607.94L560.2 608.41L566.91 608.86L568.85 608.98M619.14 611.92L620.59 611.99L625.26 612.23L627.3 612.33L634.01 612.66L640.72 612.98L647.43 613.29L654.14 613.59L660.85 613.88L667.56 614.16L674.27 614.44L680.98 614.71L687.69 614.98L694.4 615.23L701.11 615.49L707.82 615.73L714.53 615.97L721.24 616.2L727.95 616.43L734.66 616.66L741.37 616.87L748.08 617.09L754.79 617.29L761.49 617.5" fill="none" stroke="#000000" stroke-width="0.69" stroke-opacity="0.5" stroke-linejoin="round"/>
<path d="M237.09 65.83L237.51 72.26L237.94 78.68L238.14 81.58L238.39 85.11L238.85 91.54L239.32 97.97L239.8 104.4L240.3 110.83L240.81 117.25L241.33 123.68L241.86 130.11L242.41 136.54L242.97 142.97L243.55 149.4L244.14 155.82L244.75 162.25L244.85 163.26L245.15 166.31M250.76 216.5L251.22 220.11L251.56 222.76L252.06 226.53L252.94 232.96L253.84 239.39L254.78 245.82L255.75 252.25L256.75 258.68L257.78 265.1L258.27 268.04L258.87 271.53L260 277.96L261.18 284.39L262.4 290.82L263.66 297.25L264.98 303.67L264.98 303.68L266.38 310.1L267.83 316.53L269.34 322.96L270.92 329.39L271.69 332.41L272.58 335.82L274.34 342.24L276.17 348.67L278.09 355.1L278.4 356.11L280.13 361.53L282.28 367.96L284.53 374.39L285.11 375.96L286.94 380.81L289.49 387.24L291.82 392.85L292.17 393.67L295.06 400.1L298.1 406.53L298.53 407.39L301.38 412.96L304.87 419.38L305.24 420.04L308.64 425.81L311.95 431.14L312.66 432.24L317.03 438.67L318.66 440.95L321.75 445.1L325.37 449.71L326.86 451.52L332.08 457.57L332.43 457.95L338.52 464.38L338.79 464.65L345.22 470.81L345.5 471.06L352.21 476.9L352.61 477.24L358.92 482.24L360.81 483.67L365.62 487.13L369.95 490.09L372.33 491.66L379.04 495.84L380.2 496.52L385.75 499.69L391.78 502.95L392.46 503.31L399.17 506.64L404.98 509.38L405.88 509.79L412.59 512.71L419.3 515.47L420.15 515.81L426.01 518.04L432.72 520.48L437.79 522.24L439.43 522.79L446.14 524.95L452.85 527L458.51 528.66L459.56 528.96L466.27 530.8L472.98 532.55L479.69 534.23L483.25 535.09L486.4 535.83L493.11 537.34L499.82 538.79L506.53 540.18L513.23 541.52L513.24 541.52L519.95 542.78L526.66 544L533.37 545.17L540.08 546.29L546.79 547.38L550.43 547.95L553.5 548.42L560.2 549.41L566.91 550.37L573.62 551.3L580.33 552.19L587.04 553.06L593.75 553.9L597.69 554.38L600.46 554.71L607.17 555.48L613.88 556.23L620.59 556.96L627.3 557.66L634.01 558.35L640.72 559.01L647.43 559.66L654.14 560.29L659.8 560.81L660.85 560.9L667.56 561.48L674.27 562.05L680.98 562.61L687.69 563.15L694.4 563.67L701.11 564.18L707.82 564.68L714.53 565.17L721.24 565.64L727.95 566.1L734.66 566.56L741.37 567L745.06 567.23L748.08 567.42L754.79 567.84L761.49 568.24" fill="none" stroke="#000000" stroke-width="0.69" stroke-opacity="0.5" stroke-linejoin="round"/>
<path d="M295.36 65.83L296.12 72.26L296.89 78.68L297.68 85.11L298.49 91.54L298.53 91.81L299.34 97.97L300.2 104.4L301.09 110.83L302.01 117.25L302.94 123.68L303.91 130.11L304.9 136.54L305.24 138.71L305.92 142.97L306.99 149.4L308.08 155.82L308.86 160.28M318.73 209.68L319.65 213.68L321.18 220.11L322.77 226.53L324.4 232.96L325.37 236.64L326.11 239.39L327.89 245.82L329.74 252.25L331.65 258.68L332.08 260.06L333.66 265.1L335.76 271.53L337.94 277.96L338.79 280.39L340.22 284.39L342.62 290.82L345.11 297.25L345.5 298.21L347.75 303.67L350.5 310.1L352.21 313.94L353.39 316.53L356.45 322.96L358.92 327.95L359.65 329.39L363.05 335.82L365.62 340.49L366.62 342.24L370.42 348.67L372.33 351.79L374.44 355.1L378.7 361.53L379.04 362.03L383.26 367.96L385.75 371.32L388.11 374.39L392.46 379.83L393.28 380.81L398.82 387.24L399.17 387.64L404.78 393.67L405.88 394.81L411.19 400.1L412.59 401.44L418.11 406.53L419.3 407.58L425.6 412.96L426.01 413.29L432.72 418.6L433.75 419.38L439.43 423.56L442.63 425.81L446.14 428.2L452.33 432.24L452.85 432.57L459.56 436.65L463.02 438.67L466.27 440.5L472.98 444.14L474.81 445.1L479.69 447.57L486.4 450.82L487.9 451.52L493.11 453.89L499.82 456.82L502.52 457.95L506.53 459.59L513.24 462.23L518.94 464.38L519.95 464.75L526.66 467.14L533.37 469.43L537.54 470.81L540.08 471.62L546.79 473.71L553.5 475.72L558.76 477.24L560.2 477.64L566.91 479.48L573.62 481.25L580.33 482.96L583.21 483.67L587.04 484.59L593.75 486.16L600.46 487.67L607.17 489.14L611.67 490.09L613.88 490.55L620.59 491.9L627.3 493.21L634.01 494.48L640.72 495.72L645.25 496.52L647.43 496.9L654.14 498.05L660.85 499.15L667.56 500.23L674.27 501.28L680.98 502.29L685.43 502.95L687.69 503.28L694.4 504.23L701.11 505.15L707.82 506.05L714.53 506.92L721.24 507.77L727.95 508.6L734.37 509.38L734.66 509.41L741.37 510.19L748.08 510.95L754.79 511.69L761.49 512.41" fill="none" stroke="#000000" stroke-width="0.69" stroke-opacity="0.5" stroke-linejoin="round"/>
<path d="M361.95 65.83L363.2 72.26L364.48 78.68L365.62 84.28L365.8 85.11L367.17 91.54L368.57 97.97L370.01 104.4L371.49 110.83L372.33 114.41L373.02 117.25L374.61 123.68L376.24 130.11L377.91 136.54L379.04 140.77L379.65 142.97L381.17 148.39M396.62 196.32L398.29 200.82L399.17 203.15L400.77 207.25L403.35 213.68L405.88 219.78L406.02 220.11L408.83 226.53L411.74 232.96L412.59 234.81L414.78 239.39L417.95 245.82L419.3 248.47L421.28 252.25L424.75 258.68L426.01 260.95L428.39 265.1L432.2 271.53L432.72 272.39L436.22 277.96L439.43 282.9L440.43 284.39L444.87 290.82L446.14 292.6L449.55 297.25L452.85 301.59L454.48 303.67L459.56 309.94L459.7 310.1L465.23 316.53L466.27 317.7L471.1 322.96L472.98 324.94L477.33 329.39L479.69 331.72L483.96 335.82L486.4 338.08L491.04 342.24L493.11 344.05L498.6 348.67L499.82 349.67L506.53 354.97L506.7 355.1L513.24 359.96L515.41 361.53L519.95 364.69L524.79 367.96L526.66 369.18L533.37 373.43L534.92 374.39L540.08 377.46L545.9 380.81L546.79 381.31L553.5 384.96L557.84 387.24L560.2 388.45L566.91 391.78L570.86 393.67L573.62 394.96L580.33 398L585.12 400.1L587.04 400.92L593.75 403.7L600.46 406.39L600.81 406.53L607.17 408.95L613.88 411.42L618.17 412.96L620.59 413.8L627.3 416.08L634.01 418.28L637.45 419.38L640.72 420.4L647.43 422.44L654.14 424.42L659.01 425.81L660.85 426.33L667.56 428.16L674.27 429.94L680.98 431.66L683.28 432.24L687.69 433.32L694.4 434.93L701.11 436.49L707.82 438.01L710.79 438.67L714.53 439.48L721.24 440.9L727.95 442.28L734.66 443.62L741.37 444.93L742.24 445.1L748.08 446.19L754.79 447.42L761.49 448.61" fill="none" stroke="#000000" stroke-width="0.69" stroke-opacity="0.5" stroke-linejoin="round"/>
<path d="M438.78 65.83L439.43 67.96L440.76 72.26L442.8 78.68L444.89 85.11L446.14 88.86L447.05 91.54L449.29 97.97L451.59 104.4L452.85 107.83L453.97 110.83L456.44 117.25L458.97 123.68L459.56 125.13L461.61 130.11L463.73 135.11M485.88 180.47L486.4 181.41L486.47 181.54L490.16 187.97L493.11 192.94L493.99 194.39L498 200.82L499.82 203.66L502.18 207.25L506.53 213.68L506.53 213.68L511.1 220.11L513.24 223.02L515.88 226.53L519.95 231.8L520.87 232.96L526.12 239.39L526.66 240.03L531.64 245.82L533.37 247.77L537.44 252.25L540.08 255.06L543.55 258.68L546.79 261.95L549.99 265.1L553.5 268.46L556.79 271.53L560.2 274.63L563.98 277.96L566.91 280.48L571.59 284.39L573.62 286.04L579.67 290.82L580.33 291.33L587.04 296.36L588.26 297.25L593.75 301.15L597.42 303.67L600.46 305.72L607.17 310.1L607.17 310.1L613.88 314.27L617.63 316.53L620.59 318.27L627.3 322.11L628.82 322.96L634.01 325.78L640.72 329.32L640.85 329.39L647.43 332.7L653.83 335.82L654.14 335.97L660.85 339.09L667.56 342.12L667.85 342.24L674.27 345.02L680.98 347.82L683.06 348.67L687.69 350.52L694.4 353.13L699.59 355.1L701.11 355.66L707.82 358.09L714.53 360.45L717.66 361.53L721.24 362.73L727.95 364.94L734.66 367.08L737.46 367.96L741.37 369.15L748.08 371.16L754.79 373.11L759.27 374.39L761.49 375.01" fill="none" stroke="#000000" stroke-width="0.69" stroke-opacity="0.5" stroke-linejoin="round"/>
<path d="M528.43 65.83L531.46 72.26L533.37 76.2L534.59 78.68L537.83 85.11L540.08 89.46L541.17 91.54L544.64 97.97L546.79 101.85L548.22 104.4L551.94 110.83L553.5 113.46L555.79 117.25L559.78 123.68L560.2 124.36L563.93 130.11L565.73 132.82M596.25 173.02L598.06 175.11L600.46 177.83L603.81 181.54L607.17 185.17L609.82 187.97L613.88 192.14L616.12 194.39L620.59 198.78L622.72 200.82L627.3 205.1L629.65 207.25L634.01 211.14L636.93 213.68L640.72 216.9L644.59 220.11L647.43 222.41L652.65 226.53L654.14 227.69L660.85 232.74L661.15 232.96L667.56 237.58L670.14 239.39L674.27 242.23L679.64 245.82L680.98 246.69L687.69 250.98L689.72 252.25L694.4 255.11L700.4 258.68L701.11 259.09L707.82 262.91L711.78 265.1L714.53 266.6L721.24 270.16L723.89 271.53L727.95 273.59L734.66 276.91L736.82 277.96L741.37 280.11L748.08 283.22L750.67 284.39L754.79 286.22L761.49 289.12" fill="none" stroke="#000000" stroke-width="0.69" stroke-opacity="0.5" stroke-linejoin="round"/>
<path d="M634.37 65.83L638.94 72.26L640.72 74.7L643.68 78.68L647.43 83.62L648.59 85.11L653.68 91.54L654.14 92.11L658.98 97.97L660.85 100.19L664.47 104.4L667.56 107.9L670.19 110.83L674.27 115.27L675.11 116.17M711.71 150.93L714.53 153.31L717.58 155.82L721.24 158.78L725.63 162.25L727.95 164.05L734.06 168.68L734.66 169.12L741.37 174L742.93 175.11L748.08 178.7L752.24 181.54L754.79 183.24L761.49 187.63" fill="none" stroke="#000000" stroke-width="0.69" stroke-opacity="0.5" stroke-linejoin="round"/>
<!-- diagonal reference line -->
<path d="M62.28 735.72L761.49 65.83" fill="none" stroke="#000000" stroke-width="2.08" stroke-opacity="0.3" stroke-linejoin="round" stroke-dasharray="7.71 3.33"/>
<!-- axes patch / spines / colorbar outline -->
<path d="M62.5 736.5L62.5 32.5" fill="none" stroke="#000000" stroke-width="1.11" stroke-linecap="square"/>
<path d="M62.5 736.5L796.5 736.5" fill="none" stroke="#000000" stroke-width="1.11" stroke-linecap="square"/>
<!-- annotation box -->
<path d="M285.93 90.77L377.68 90.77Q381.02 90.77 381.02 87.43L381.02 54.23Q381.02 50.9 377.68 50.9L285.93 50.9Q282.6 50.9 282.6 54.23L282.6 87.43Q282.6 90.77 285.93 90.77Z" fill="#ffffff" fill-opacity="0.8" stroke="#000000" stroke-width="1.39" stroke-opacity="0.8"/>
<!-- text -->
<text x="285.93" y="62.23" font-size="11.67" textLength="60.25" lengthAdjust="spacingAndGlyphs">Aggressive</text>
<text x="285.93" y="73.83" font-size="11.67" textLength="90.75" lengthAdjust="spacingAndGlyphs">(split on every .)</text>
<text x="285.93" y="85.43" font-size="11.67" textLength="46.5" lengthAdjust="spacingAndGlyphs">F1=0.46</text>
<!-- annotation box -->
<path d="M657.09 540.09L757.09 540.09Q760.42 540.09 760.42 536.75L760.42 503.55Q760.42 500.22 757.09 500.22L657.09 500.22Q653.76 500.22 653.76 503.55L653.76 536.75Q653.76 540.09 657.09 540.09Z" fill="#ffffff" fill-opacity="0.8" stroke="#000000" stroke-width="1.39" stroke-opacity="0.8"/>
<!-- text -->
<text x="657.09" y="511.55" font-size="11.67" textLength="72.38" lengthAdjust="spacingAndGlyphs">Conservative</text>
<text x="657.09" y="523.15" font-size="11.67" textLength="99" lengthAdjust="spacingAndGlyphs">(split only on &quot;? &quot;)</text>
<text x="657.09" y="534.75" font-size="11.67" textLength="46.5" lengthAdjust="spacingAndGlyphs">F1=0.46</text>
<!-- annotation box -->
<path d="M587.17 171.65L638.92 171.65Q642.25 171.65 642.25 168.31L642.25 135.11Q642.25 131.78 638.92 131.78L587.17 131.78Q583.83 131.78 583.83 135.11L583.83 168.31Q583.83 171.65 587.17 171.65Z" fill="#ffffff" fill-opacity="0.8" stroke="#000000" stroke-width="1.39" stroke-opacity="0.8"/>
<!-- text -->
<text x="587.17" y="143.11" font-size="11.67" textLength="50.75" lengthAdjust="spacingAndGlyphs">Balanced</text>
<text x="587.17" y="154.71" font-size="11.67" textLength="39.38" lengthAdjust="spacingAndGlyphs">(Punkt)</text>
<text x="587.17" y="166.31" font-size="11.67" textLength="46.5" lengthAdjust="spacingAndGlyphs">F1=0.85</text>
<!-- annotation box -->
<path d="M719.45 110.86L781.32 110.86Q784.65 110.86 784.65 107.53L784.65 74.33Q784.65 71 781.32 71L719.45 71Q716.11 71 716.11 74.33L716.11 107.53Q716.11 110.86 719.45 110.86Z" fill="#ffffff" fill-opacity="0.8" stroke="#000000" stroke-width="1.39" stroke-opacity="0.8"/>
<!-- text -->
<text x="719.45" y="82.33" font-size="11.67" textLength="58.38" lengthAdjust="spacingAndGlyphs">Production</text>
<text x="719.45" y="93.93" font-size="11.67" textLength="60.88" lengthAdjust="spacingAndGlyphs">Segmenter</text>
<text x="719.45" y="105.53" font-size="11.67" textLength="46.62" lengthAdjust="spacingAndGlyphs">F1=0.92</text>
<text x="153.93" y="24" font-size="17.5" font-weight="bold" textLength="546.88" lengthAdjust="spacingAndGlyphs">Precision-Recall Trade-off in Sentence Boundary Detection</text>
<text x="98.94" y="180.11" font-size="11.67" fill-opacity="0.5" textLength="39.38" lengthAdjust="spacingAndGlyphs" transform="rotate(-270.27 98.94 180.11)">F1=0.1</text>
<text x="483.72" y="658.05" font-size="11.67" fill-opacity="0.5" textLength="39.5" lengthAdjust="spacingAndGlyphs" transform="rotate(-358.03 483.72 658.05)">F1=0.2</text>
<text x="573.53" y="611.97" font-size="11.67" fill-opacity="0.5" textLength="39.38" lengthAdjust="spacingAndGlyphs" transform="rotate(-356.67 573.53 611.97)">F1=0.3</text>
<text x="244.88" y="172.03" font-size="11.67" fill-opacity="0.5" textLength="39.5" lengthAdjust="spacingAndGlyphs" transform="rotate(-276.37 244.88 172.03)">F1=0.4</text>
<text x="308.72" y="165.39" font-size="11.67" fill-opacity="0.5" textLength="39.38" lengthAdjust="spacingAndGlyphs" transform="rotate(-281.3 308.72 165.39)">F1=0.5</text>
<text x="381.49" y="153.7" font-size="11.67" fill-opacity="0.5" textLength="39.38" lengthAdjust="spacingAndGlyphs" transform="rotate(-287.85 381.49 153.7)">F1=0.6</text>
<text x="464.1" y="140.08" font-size="11.67" fill-opacity="0.5" textLength="39.5" lengthAdjust="spacingAndGlyphs" transform="rotate(-296.02 464.1 140.08)">F1=0.7</text>
<text x="565.62" y="137" font-size="11.67" fill-opacity="0.5" textLength="39.5" lengthAdjust="spacingAndGlyphs" transform="rotate(-307.19 565.62 137)">F1=0.8</text>
<text x="678.04" y="122.82" font-size="11.67" fill-opacity="0.5" textLength="39.5" lengthAdjust="spacingAndGlyphs" transform="rotate(-316.45 678.04 122.82)">F1=0.9</text>
<!-- scatter markers -->
<path d="M272.5 106.44C274.34 106.44 276.11 105.71 277.41 104.41C278.71 103.11 279.44 101.34 279.44 99.5C279.44 97.66 278.71 95.89 277.41 94.59C276.11 93.29 274.34 92.56 272.5 92.56C270.66 92.56 268.89 93.29 267.59 94.59C266.29 95.89 265.56 97.66 265.56 99.5C265.56 101.34 266.29 103.11 267.59 104.41C268.89 105.71 270.66 106.44 272.5 106.44Z" fill="#ffffff" stroke="#000000" stroke-width="2.78" stroke-linejoin="round"/>
<path d="M727.5 542.44C729.34 542.44 731.11 541.71 732.41 540.41C733.71 539.11 734.44 537.34 734.44 535.5C734.44 533.66 733.71 531.89 732.41 530.59C731.11 529.29 729.34 528.56 727.5 528.56C725.66 528.56 723.89 529.29 722.59 530.59C721.29 531.89 720.56 533.66 720.56 535.5C720.56 537.34 721.29 539.11 722.59 540.41C723.89 541.71 725.66 542.44 727.5 542.44Z" fill="#ffffff" stroke="#000000" stroke-width="2.78" stroke-linejoin="round"/>
<path d="M657.5 173.44C659.34 173.44 661.11 172.71 662.41 171.41C663.71 170.11 664.44 168.34 664.44 166.5C664.44 164.66 663.71 162.89 662.41 161.59C661.11 160.29 659.34 159.56 657.5 159.56C655.66 159.56 653.89 160.29 652.59 161.59C651.29 162.89 650.56 164.66 650.56 166.5C650.56 168.34 651.29 170.11 652.59 171.41C653.89 172.71 655.66 173.44 657.5 173.44Z" fill="#ffffff" stroke="#000000" stroke-width="2.78" stroke-linejoin="round"/>
<path d="M706.5 126.44C708.34 126.44 710.11 125.71 711.41 124.41C712.71 123.11 713.44 121.34 713.44 119.5C713.44 117.66 712.71 115.89 711.41 114.59C710.11 113.29 708.34 112.56 706.5 112.56C704.66 112.56 702.89 113.29 701.59 114.59C700.29 115.89 699.56 117.66 699.56 119.5C699.56 121.34 700.29 123.11 701.59 124.41C702.89 125.71 704.66 126.44 706.5 126.44Z" fill="#ffffff" stroke="#000000" stroke-width="2.78" stroke-linejoin="round"/>
<!-- axes patch / spines / colorbar outline -->
<path d="M842 736L878 736L878 32L842 32Z" fill="#ffffff"/>
<!-- colorbar color bands -->
<path d="M842 736L878 736L878 648L842 648L842 736" fill="#c41e27" fill-opacity="0.8" shape-rendering="crispEdges"/>
<path d="M842 648L878 648L878 560L842 560L842 648" fill="#ef633f" fill-opacity="0.8" shape-rendering="crispEdges"/>
<path d="M842 560L878 560L878 472L842 472L842 560" fill="#fdb567" fill-opacity="0.8" shape-rendering="crispEdges"/>
<path d="M842 472L878 472L878 384L842 384L842 472" fill="#feeb9d" fill-opacity="0.8" shape-rendering="crispEdges"/>
<path d="M842 384L878 384L878 296L842 296L842 384" fill="#e6f59d" fill-opacity="0.8" shape-rendering="crispEdges"/>
<path d="M842 296L878 296L878 208L842 208L842 296" fill="#abdb6d" fill-opacity="0.8" shape-rendering="crispEdges"/>
<path d="M842 208L878 208L878 120L842 120L842 208" fill="#5ab760" fill-opacity="0.8" shape-rendering="crispEdges"/>
<path d="M842 120L878 120L878 32L842 32L842 120" fill="#0f8446" fill-opacity="0.8" shape-rendering="crispEdges"/>
<!-- y ticks -->
<path d="M878.5 736.5L883.5 736.5" fill="#000000" stroke="#000000" stroke-width="1.11" stroke-linejoin="round"/>
<!-- y tick labels -->
<text x="887.73" y="741.22" font-size="14.58" textLength="21" lengthAdjust="spacingAndGlyphs">0.1</text>
<!-- y ticks -->
<path d="M878.5 648.5L883.5 648.5" fill="#000000" stroke="#000000" stroke-width="1.11" stroke-linejoin="round"/>
<!-- y tick labels -->
<text x="887.73" y="653.3" font-size="14.58" textLength="20.88" lengthAdjust="spacingAndGlyphs">0.2</text>
<!-- y ticks -->
<path d="M878.5 560.5L883.5 560.5" fill="#000000" stroke="#000000" stroke-width="1.11" stroke-linejoin="round"/>
<!-- y tick labels -->
<text x="887.73" y="565.38" font-size="14.58" textLength="20.88" lengthAdjust="spacingAndGlyphs">0.3</text>
<!-- y ticks -->
<path d="M878.5 472.5L883.5 472.5" fill="#000000" stroke="#000000" stroke-width="1.11" stroke-linejoin="round"/>
<!-- y tick labels -->
<text x="887.73" y="477.45" font-size="14.58" textLength="20.88" lengthAdjust="spacingAndGlyphs">0.4</text>
<!-- y ticks -->
<path d="M878.5 384.5L883.5 384.5" fill="#000000" stroke="#000000" stroke-width="1.11" stroke-linejoin="round"/>
<!-- y tick labels -->
<text x="887.73" y="389.53" font-size="14.58" textLength="20.88" lengthAdjust="spacingAndGlyphs">0.5</text>
<!-- y ticks -->
<path d="M878.5 296.5L883.5 296.5" fill="#000000" stroke="#000000" stroke-width="1.11" stroke-linejoin="round"/>
<!-- y tick labels -->
<text x="887.73" y="301.6" font-size="14.58" textLength="21" lengthAdjust="spacingAndGlyphs">0.6</text>
<!-- y ticks -->
<path d="M878.5 208.5L883.5 208.5" fill="#000000" stroke="#000000" stroke-width="1.11" stroke-linejoin="round"/>
<!-- y tick labels -->
<text x="887.73" y="213.68" font-size="14.58" textLength="20.88" lengthAdjust="spacingAndGlyphs">0.7</text>
<!-- y ticks -->
<path d="M878.5 120.5L883.5 120.5" fill="#000000" stroke="#000000" stroke-width="1.11" stroke-linejoin="round"/>
<!-- y tick labels -->
<text x="887.73" y="125.76" font-size="14.58" textLength="21" lengthAdjust="spacingAndGlyphs">0.8</text>
<!-- y ticks -->
<path d="M878.5 32.5L883.5 32.5" fill="#000000" stroke="#000000" stroke-width="1.11" stroke-linejoin="round"/>
<!-- y tick labels -->
<text x="887.73" y="37.83" font-size="14.58" textLength="21" lengthAdjust="spacingAndGlyphs">0.9</text>
<!-- axis label -->
<text x="924.77" y="414.02" font-size="14.58" textLength="59.12" lengthAdjust="spacingAndGlyphs" transform="rotate(-90 924.77 414.02)">F1 Score</text>
<!-- axes patch / spines / colorbar outline -->
<path d="M842.5 736.5L860.5 736.5L878.5 736.5L878.5 32.5L860.5 32.5L842.5 32.5Z" fill="none" stroke="#000000" stroke-width="1.11" stroke-linecap="square"/>
</svg>
</body></html>
